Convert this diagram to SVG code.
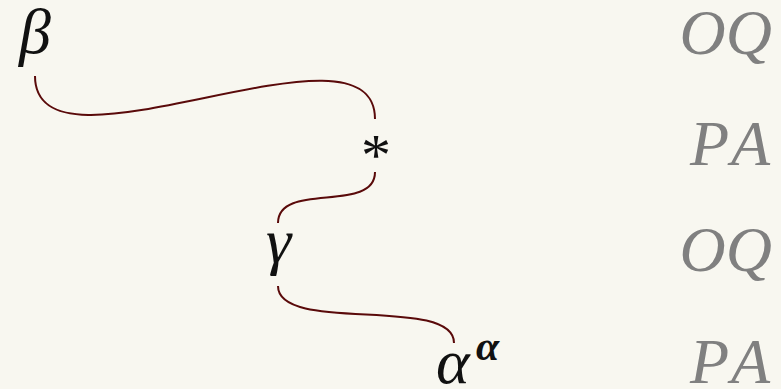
<svg xmlns="http://www.w3.org/2000/svg" width="781" height="389" viewBox="0 0 781 389">
<style>
.bg{fill:#f8f7f0}
.n{font-family:"Liberation Serif","DejaVu Serif",serif;font-style:italic;fill:#111}
.lab{font-family:"Liberation Serif","DejaVu Serif",serif;font-style:italic;fill:#808080;font-size:64px;text-anchor:end}
.w{fill:none;stroke:#5a0a0a;stroke-width:2;stroke-linecap:butt}
</style>
<rect class="bg" x="0" y="0" width="781" height="389"/>
<g id="connectors">
<path class="w" d="M35,76 C35,190 375,6 375,119"/>
<path class="w" d="M375,172 C375,214 278,181 278,223"/>
<path class="w" d="M278,286 C278,334 454,295 454,343"/>
</g>
<g id="node-beta"><text class="n" x="19" y="53" font-size="64">β</text></g>
<g id="node-star"><text class="n" x="376" y="175" font-size="60" text-anchor="middle" style="font-style:normal">*</text></g>
<g id="node-gamma"><text class="n" x="266" y="262" font-size="64">γ</text></g>
<g id="node-alpha"><text class="n" x="436" y="383" font-size="64">α</text><text class="n" x="476" y="360" font-size="42" font-weight="bold">α</text></g>
<g id="labels">
<text class="lab" x="772" y="54">OQ</text>
<text class="lab" x="780" y="165" letter-spacing="10">PA</text>
<text class="lab" x="772" y="271">OQ</text>
<text class="lab" x="780" y="383" letter-spacing="10">PA</text>
</g>
</svg>
